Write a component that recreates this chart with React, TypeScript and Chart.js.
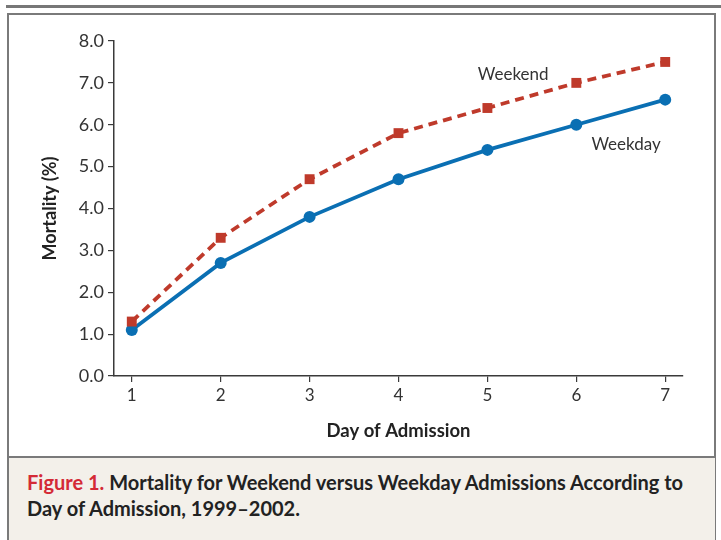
import React, { useEffect, useRef } from "react";
import { Chart, registerables } from "chart.js";

Chart.register(...registerables);

const days = [1, 2, 3, 4, 5, 6, 7];
const weekendValues = [1.3, 3.3, 4.7, 5.8, 6.4, 7.0, 7.5];
const weekdayValues = [1.1, 2.7, 3.8, 4.7, 5.4, 6.0, 6.6];
const yTicks = [0, 1, 2, 3, 4, 5, 6, 7, 8];

const BLUE = "#0a6fb3";
const RED = "#bf3a2b";
const AXIS = "#3a3a3a";
const FONT = "Lato, 'Open Sans', sans-serif";

const seriesLabels = {
  id: "seriesLabels",
  afterDatasetsDraw(chart: any) {
    const { ctx, scales } = chart;
    const x = scales.x;
    const y = scales.y;
    ctx.save();
    ctx.font = `17px ${FONT}`;
    ctx.fillStyle = "#333";
    ctx.textAlign = "center";
    ctx.textBaseline = "middle";
    ctx.fillText("Weekend", x.getPixelForValue(5.29), y.getPixelForValue(7.21));
    ctx.fillText("Weekday", x.getPixelForValue(6.56), y.getPixelForValue(5.52));
    ctx.restore();
  },
};

export default function App() {
  const ref = useRef<HTMLCanvasElement | null>(null);

  useEffect(() => {
    if (!ref.current) return;
    const chart = new Chart(ref.current, {
      type: "line",
      data: {
        datasets: [
          {
            label: "Weekend",
            data: days.map((d, i) => ({ x: d, y: weekendValues[i] })),
            borderColor: RED,
            backgroundColor: RED,
            borderWidth: 3.8,
            borderDash: [9, 6],
            pointStyle: "rect",
            pointRadius: 7,
            pointBorderWidth: 0,
            tension: 0,
          },
          {
            label: "Weekday",
            data: days.map((d, i) => ({ x: d, y: weekdayValues[i] })),
            borderColor: BLUE,
            backgroundColor: BLUE,
            borderWidth: 3.8,
            pointStyle: "circle",
            pointRadius: 6,
            pointBorderWidth: 0,
            tension: 0,
          },
        ],
      },
      options: {
        animation: false,
        responsive: false,
        maintainAspectRatio: false,
        layout: { padding: { left: 0, right: 38, top: 41, bottom: 0 } },
        plugins: {
          legend: { display: false },
          tooltip: { enabled: false },
        },
        scales: {
          x: {
            type: "linear",
            min: 0.8,
            max: 7.2,
            afterBuildTicks: (s: any) => {
              s.ticks = days.map((v) => ({ value: v }));
            },
            afterFit: (s: any) => {
              s.height = 79;
            },
            grid: {
              drawOnChartArea: false,
              drawTicks: true,
              tickLength: 6,
              color: AXIS,
              lineWidth: 1.2,
            },
            border: { display: true, color: AXIS, width: 1.5 },
            ticks: {
              color: "#333",
              font: { family: FONT, size: 17 },
              padding: 3,
              maxRotation: 0,
              callback: (v: any) => String(v),
            },
            title: {
              display: true,
              text: "Day of Admission",
              color: "#222",
              font: { family: FONT, size: 18.5, weight: "bold" },
              padding: { top: 0, bottom: 13 },
            },
          },
          y: {
            type: "linear",
            min: 0,
            max: 8,
            afterBuildTicks: (s: any) => {
              s.ticks = yTicks.map((v) => ({ value: v }));
            },
            afterFit: (s: any) => {
              s.width = 114;
            },
            grid: {
              drawOnChartArea: false,
              drawTicks: true,
              tickLength: 6,
              color: AXIS,
              lineWidth: 1.2,
            },
            border: { display: true, color: AXIS, width: 1.5 },
            ticks: {
              color: "#333",
              font: { family: FONT, size: 18 },
              padding: 4,
              callback: (v: any) => Number(v).toFixed(1),
            },
            title: {
              display: true,
              text: "Mortality (%)",
              color: "#222",
              font: { family: FONT, size: 18, weight: "bold" },
              padding: { top: 39, bottom: 0 },
            },
          },
        },
      },
      plugins: [seriesLabels],
    });
    return () => chart.destroy();
  }, []);

  return (
    <div
      style={{
        position: "fixed",
        left: 0,
        top: 0,
        width: 721,
        height: 540,
        background: "#fff",
        overflow: "hidden",
        fontFamily: FONT,
      }}
    >
      <div
        style={{
          position: "absolute",
          left: 6,
          right: 0,
          top: 5,
          height: 3,
          background: "#777",
        }}
      />
      <div
        style={{
          position: "absolute",
          left: 7,
          top: 13,
          width: 709,
          height: 540,
          border: "2.5px solid #7a7a7a",
          boxSizing: "border-box",
        }}
      />
      <div
        style={{
          position: "absolute",
          left: 9,
          top: 456,
          width: 706,
          height: 84,
          background: "#f3f0ea",
          borderTop: "2.5px solid #7a7a7a",
          boxSizing: "border-box",
        }}
      />
      <canvas
        ref={ref}
        width={721}
        height={455}
        style={{ position: "absolute", left: 0, top: 0, width: 721, height: 455 }}
      />
      <div
        style={{
          position: "absolute",
          left: 27,
          top: 469,
          fontSize: 20,
          fontWeight: 700,
          lineHeight: "26px",
          color: "#222",
          whiteSpace: "nowrap",
        }}
      >
        <span style={{ color: "#d42a36" }}>Figure 1.</span> Mortality for Weekend versus Weekday
        Admissions According to
        <br />
        Day of Admission, 1999–2002.
      </div>
    </div>
  );
}
